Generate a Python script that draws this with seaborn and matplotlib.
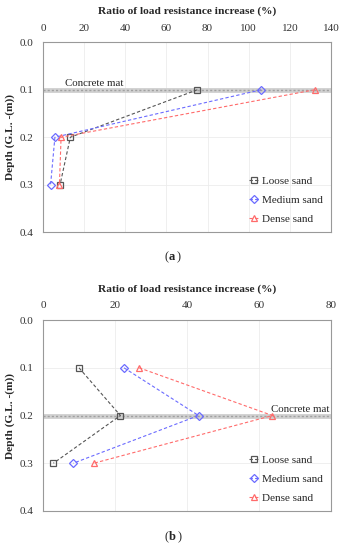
import seaborn as sns
import matplotlib.pyplot as plt
import pandas as pd

# depths (m) and ratio of load resistance increase (%)
depth = [0.1, 0.2, 0.3]
labels = ['Loose sand', 'Medium sand', 'Dense sand']

# panel (a) - concrete mat at 0.1 m
loose_a = [75, 13.3, 8.3]
medium_a = [106, 5.8, 3.7]
dense_a = [132, 8.8, 8.0]

# panel (b) - concrete mat at 0.2 m
loose_b = [10, 21.5, 2.9]
medium_b = [22.5, 43.2, 8.4]
dense_b = [26.7, 63.7, 14.1]

sns.set_style('white')
plt.rcParams['font.family'] = ['Liberation Serif', 'DejaVu Serif']

colors = ['#555555', '#6b6bff', '#ff6b6b']
markers = ['s', 'D', '^']
msizes = [4.8, 4.0, 5.0]

fig = plt.figure(figsize=(3.41, 5.5), dpi=100)
ax1 = fig.add_axes([0.126, 0.578, 0.845, 0.345])
ax2 = fig.add_axes([0.126, 0.071, 0.845, 0.347])


def draw(ax, series, xmax, xstep, mat_y, mat_x, mat_ha):
    # concrete mat line
    ax.axhline(mat_y, color='#d0d0d0', lw=3.5, zorder=1)
    ax.axhline(mat_y, color='#a0a0a0', lw=1, ls=(0, (1.5, 1.5)), zorder=1)
    ax.text(mat_x, mat_y - 0.004, 'Concrete mat', ha=mat_ha, va='bottom', fontsize=7.8)
    for vals, lab, c, m, ms in zip(series, labels, colors, markers, msizes):
        df = pd.DataFrame({'x': vals, 'y': depth})
        sns.lineplot(data=df, x='x', y='y', sort=False, ax=ax, color=c, lw=0.8,
                     linestyle=(0, (3, 2)), marker=m, markersize=ms,
                     markerfacecolor='none', markeredgecolor=c, markeredgewidth=0.9,
                     label=lab, zorder=3)
    ax.set_xlim(0, xmax)
    ax.set_ylim(0.4, 0.0)
    ax.set_xticks(range(0, xmax + 1, xstep))
    ax.set_yticks([0.0, 0.1, 0.2, 0.3, 0.4])
    ax.set_yticklabels(['0.0', '0.1', '0.2', '0.3', '0.4'])
    ax.xaxis.tick_top()
    ax.xaxis.set_label_position('top')
    ax.set_xlabel('Ratio of load resistance increase (%)', fontsize=8.2, fontweight='bold', labelpad=7)
    ax.set_ylabel('Depth (G.L. -(m))', fontsize=8.2, fontweight='bold', labelpad=3)
    ax.tick_params(labelsize=8, length=0, pad=7, colors='#333333')
    ax.grid(True, color='#ececec', lw=0.6)
    for s in ax.spines.values():
        s.set_color('#999999')
        s.set_linewidth(0.8)
    ax.legend(loc='lower right', frameon=False, fontsize=8, handlelength=1.0,
              handletextpad=0.25, labelspacing=0.85, borderaxespad=0.3)


def panel_tag(y_px, letter):
    y = 1 - y_px / 550
    fig.text(0.495, y, '(', fontsize=9, ha='right', va='center')
    fig.text(0.495, y, letter, fontsize=9, fontweight='bold', ha='left', va='center')
    fig.text(0.495 + (0.024 if letter == 'a' else 0.026), y, ')', fontsize=9, ha='left', va='center')


draw(ax1, [loose_a, medium_a, dense_a], 140, 20, 0.1, 10.5, 'left')
panel_tag(257, 'a')

draw(ax2, [loose_b, medium_b, dense_b], 80, 20, 0.2, 79.5, 'right')
panel_tag(537, 'b')

fig.savefig('out.png', dpi=100)
